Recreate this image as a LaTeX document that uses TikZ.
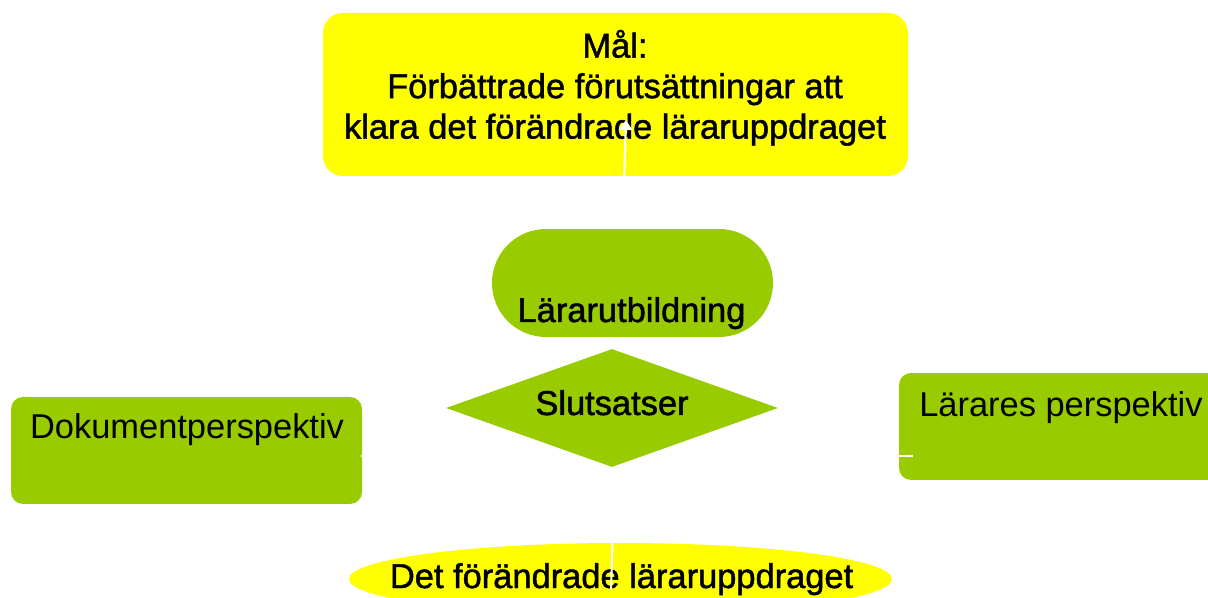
\documentclass[tikz,border=0pt]{standalone}
\usepackage{fontspec}
\setmainfont{Liberation Sans}
\newfontfamily\tjockfont{Liberation Sans}[FakeBold=1.4]
\usetikzlibrary{shapes,arrows.meta}
\definecolor{malgul}{HTML}{FFFF00}
\definecolor{perspgron}{HTML}{99CC00}

\begin{document}
\begin{tikzpicture}[
  txt/.style={inner sep=0pt,font=\fontsize{24.5}{28.8}\selectfont},
  tjock/.style={inner sep=0pt,font=\tjockfont\fontsize{24.5}{28.8}\selectfont},
  gronruta/.style={fill=perspgron,rounded corners=0.3cm,minimum width=8.775cm,minimum height=2.675cm,inner sep=0pt},
  vitlinje/.style={draw=white,line width=1.5pt}]
\useasboundingbox (0,0) rectangle (30.2,14.925);
\clip (0,0) rectangle (30.2,14.925);
% gula rutor
\node[fill=malgul,rounded corners=0.5cm,minimum width=14.625cm,minimum height=4.075cm,inner sep=0pt] (mal) at (15.3875,12.5625) {};
\node[tjock,align=center] (malText) at (15.375,12.73) {Mål:\\Förbättrade förutsättningar att\\klara det förändrade läraruppdraget};
\node[ellipse,fill=malgul,minimum width=13.575cm,minimum height=1.8cm,inner sep=0pt] (uppdrag) at (15.5125,0.45) {};
\node[tjock,anchor=base] (uppdragText) at (15.54,0.225) {Det förändrade läraruppdraget};
\coordinate (pilFot) at (15.275,0.2);
\coordinate (pilTopp) at (15.65,11.925);
\draw[vitlinje,-{Triangle[width=0.33cm,length=0.25cm]}] (pilFot) -- (pilTopp);
% perspektiven
\node[gronruta] (dok) at (4.6625,3.6625) {};
\node[txt,anchor=base] (dokText) at (4.675,3.95) {Dokumentperspektiv};
\node[gronruta] (larare) at (26.8625,4.2625) {};
\node[txt,anchor=base west] (lararText) at (22.975,4.5) {Lärares perspektiv};
\coordinate (linjeV) at (9.025,3.525);
\coordinate (linjeH) at (22.825,3.525);
\draw[vitlinje] (linjeV) -- (linjeH);
% mitten
\node[diamond,fill=perspgron,minimum width=8.3cm,minimum height=2.95cm,inner sep=0pt] (slut) at (15.3,4.725) {};
\node[tjock,anchor=base] (slutText) at (15.3,4.55) {Slutsatser};
\node[fill=perspgron,rounded corners=1.35cm,minimum width=7.025cm,minimum height=2.7cm,inner sep=0pt] (utb) at (15.8125,7.85) {};
\node[tjock,anchor=base] (utbText) at (15.7875,6.875) {Lärarutbildning};
\end{tikzpicture}
\end{document}
